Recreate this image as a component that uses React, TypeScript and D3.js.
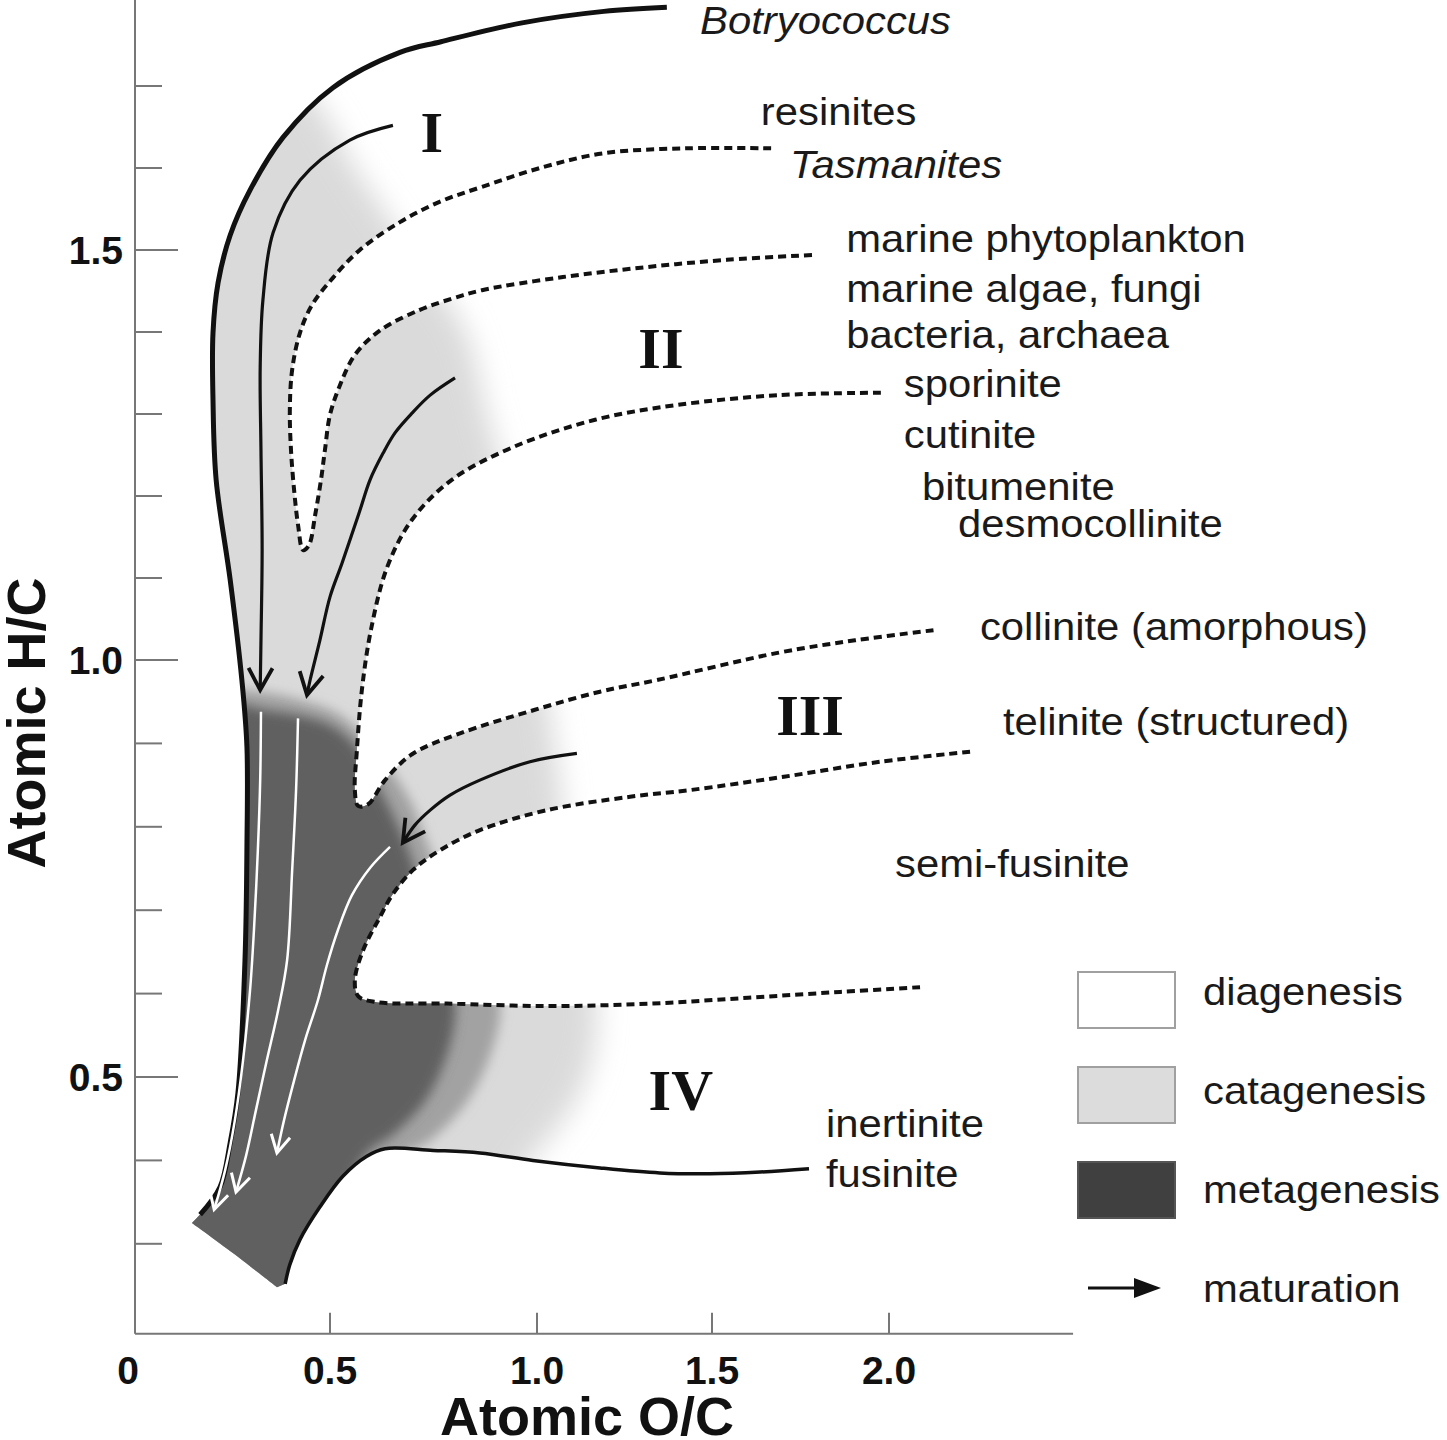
import React, { useEffect } from 'react';
import * as d3 from 'd3';

const width = 1447;
const height = 1440;

// axes
const xTickValues = [0, 0.5, 1.0, 1.5, 2.0];
const xTickLabels = ['0', '0.5', '1.0', '1.5', '2.0'];
const yMajorTicks = [0.5, 1.0, 1.5];
const yMinorTicks = [0.3, 0.4, 0.6, 0.7, 0.8, 0.9, 1.1, 1.2, 1.3, 1.4, 1.6, 1.7];
const xMax = 2.52;
const yMin = 0.192;
const yMax = 1.805;

// evolution paths, [O/C, H/C]
const botryococcus = [
  [1.371, 1.796], [1.191, 1.791], [0.964, 1.777], [0.768, 1.754], [0.669, 1.741],
  [0.507, 1.698], [0.379, 1.637], [0.295, 1.573], [0.244, 1.518], [0.213, 1.46],
  [0.2, 1.399], [0.2, 1.317], [0.208, 1.22], [0.244, 1.098], [0.274, 0.976],
  [0.287, 0.896], [0.287, 0.776], [0.282, 0.64], [0.264, 0.481], [0.244, 0.421],
  [0.218, 0.368], [0.167, 0.335]
];
const bottomEdge = [[0.146, 0.325], [0.251, 0.289], [0.364, 0.248]];
const fusinite = [
  [0.385, 0.252], [0.397, 0.275], [0.423, 0.305], [0.474, 0.344], [0.531, 0.381],
  [0.589, 0.405], [0.633, 0.414], [0.749, 0.412], [0.862, 0.409], [0.99, 0.4],
  [1.18, 0.391], [1.351, 0.385], [1.494, 0.384], [1.636, 0.386], [1.774, 0.39]
];
// telinite branch running into the semi-fusinite line
const telinite = [
  [2.229, 0.89], [1.975, 0.878], [1.703, 0.86], [1.437, 0.844], [1.266, 0.836],
  [1.029, 0.82], [0.862, 0.796], [0.766, 0.772], [0.7, 0.748], [0.65, 0.718],
  [0.621, 0.692], [0.58, 0.652], [0.56, 0.616], [0.568, 0.597], [0.609, 0.59],
  [0.783, 0.588], [1.037, 0.585], [1.323, 0.588], [1.602, 0.595], [1.862, 0.602],
  [2.099, 0.608]
];
// sporinite branch running into collinite
const sporinite = [
  [1.977, 1.326], [1.689, 1.323], [1.4, 1.311], [1.166, 1.293], [0.944, 1.26],
  [0.795, 1.22], [0.698, 1.171], [0.638, 1.113], [0.599, 1.037], [0.577, 0.964],
  [0.565, 0.892], [0.56, 0.844], [0.568, 0.825], [0.592, 0.827], [0.633, 0.856],
  [0.698, 0.887], [0.814, 0.912], [0.993, 0.94], [1.18, 0.962], [1.343, 0.976],
  [1.689, 1.009], [1.904, 1.024], [2.138, 1.037]
];
// Tasmanites branch running into marine phytoplankton
const tasmanites = [
  [1.667, 1.624], [1.426, 1.624], [1.191, 1.618], [1.017, 1.601], [0.867, 1.577],
  [0.766, 1.559], [0.669, 1.534], [0.572, 1.5], [0.507, 1.466], [0.454, 1.433],
  [0.423, 1.399], [0.403, 1.354], [0.397, 1.305], [0.4, 1.256], [0.408, 1.207],
  [0.418, 1.165], [0.431, 1.134], [0.446, 1.14], [0.462, 1.177], [0.477, 1.22],
  [0.487, 1.256], [0.5, 1.299], [0.524, 1.335], [0.56, 1.372], [0.621, 1.402],
  [0.717, 1.427], [0.797, 1.441], [0.867, 1.451], [1.074, 1.467], [1.309, 1.479],
  [1.542, 1.488], [1.788, 1.494]
];

// maturation arrows
const arrowI = [
  [0.652, 1.652], [0.548, 1.634], [0.423, 1.585], [0.354, 1.521], [0.328, 1.439],
  [0.321, 1.357], [0.323, 1.256], [0.326, 1.134], [0.323, 1.024], [0.321, 0.964]
];
const arrowII = [
  [0.802, 1.344], [0.742, 1.323], [0.698, 1.301], [0.657, 1.277], [0.628, 1.252],
  [0.597, 1.22], [0.57, 1.179], [0.529, 1.118], [0.5, 1.077], [0.474, 1.024],
  [0.449, 0.976], [0.441, 0.958]
];
const arrowIII = [
  [1.114, 0.888], [0.983, 0.878], [0.862, 0.856], [0.79, 0.838], [0.742, 0.82],
  [0.705, 0.802], [0.676, 0.781]
];
const whiteA = [
  [0.323, 0.938], [0.321, 0.856], [0.315, 0.772], [0.305, 0.676], [0.295, 0.604],
  [0.277, 0.52], [0.256, 0.448], [0.231, 0.388], [0.203, 0.341]
];
const whiteB = [
  [0.418, 0.93], [0.413, 0.844], [0.403, 0.748], [0.39, 0.64], [0.367, 0.58],
  [0.338, 0.52], [0.31, 0.46], [0.285, 0.406], [0.259, 0.362]
];
const whiteC = [
  [0.645, 0.776], [0.597, 0.751], [0.553, 0.718], [0.519, 0.676], [0.492, 0.634],
  [0.469, 0.592], [0.436, 0.544], [0.408, 0.496], [0.382, 0.448], [0.364, 0.409]
];

// maturity zones
const catagenesisZone = [
  [0.295, 1.78], [0.423, 1.707], [0.512, 1.646], [0.548, 1.61], [0.621, 1.555],
  [0.717, 1.482], [0.826, 1.402], [0.879, 1.301], [0.935, 1.195], [0.983, 1.073],
  [1.031, 0.952], [1.057, 0.88], [1.094, 0.748], [1.151, 0.64], [1.171, 0.589],
  [1.157, 0.52], [1.094, 0.46], [0.983, 0.4], [0.809, 0.292], [0.423, 0.113],
  [-0.218, 0.113], [-0.218, 1.78]
];
const intermediateZone = [
  [-0.09, 0.964], [0.282, 0.964], [0.423, 0.952], [0.524, 0.934], [0.609, 0.892],
  [0.693, 0.832], [0.742, 0.772], [0.814, 0.688], [0.886, 0.622], [0.911, 0.586],
  [0.891, 0.532], [0.833, 0.472], [0.742, 0.424], [0.657, 0.4], [0.5, 0.293],
  [0.423, 0.113], [-0.09, 0.113]
];
const metagenesisZone = [
  [-0.09, 0.952], [0.282, 0.946], [0.326, 0.941], [0.418, 0.934], [0.5, 0.922],
  [0.56, 0.898], [0.621, 0.844], [0.669, 0.796], [0.698, 0.76], [0.742, 0.688],
  [0.786, 0.622], [0.803, 0.586], [0.786, 0.532], [0.731, 0.472], [0.657, 0.433],
  [0.585, 0.406], [0.5, 0.293], [0.423, 0.113], [-0.09, 0.113]
];

// annotations, anchored in data units
const labelTexts = [
  'Botryococcus', 'resinites', 'Tasmanites', 'marine phytoplankton', 'marine algae, fungi',
  'bacteria, archaea', 'sporinite', 'cutinite', 'bitumenite', 'desmocollinite',
  'collinite (amorphous)', 'telinite (structured)', 'semi-fusinite', 'inertinite', 'fusinite'
];
const labelAnchors = [
  [1.466, 1.763], [1.638, 1.652], [1.72, 1.588], [1.879, 1.498], [1.879, 1.437],
  [1.879, 1.38], [2.042, 1.321], [2.042, 1.259], [2.093, 1.195], [2.195, 1.15],
  [2.257, 1.024], [2.322, 0.91], [2.017, 0.74], [1.822, 0.428], [1.822, 0.368]
];
const italicLabels = ['Botryococcus', 'Tasmanites'];
const typeNames = ['I', 'II', 'III', 'IV'];
const typeAnchors = [[0.746, 1.62], [1.354, 1.356], [1.777, 0.91], [1.411, 0.46]];

const legendNames = ['diagenesis', 'catagenesis', 'metagenesis', 'maturation'];
const legendFills = ['#ffffff', '#dcdcdc', '#404040'];

const x = d3.scaleLinear().domain([0, 0.5, 1.0, 1.5, 2.0]).range([135, 330, 537, 712, 889]);
const y = d3.scaleLinear().domain([0.5, 1.0, 1.5]).range([1077, 660, 250]);

const line = d3
  .line<number[]>()
  .x(d => x(d[0]))
  .y(d => y(d[1]))
  .curve(d3.curveCatmullRom.alpha(0.5));

const polygon = d3
  .line<number[]>()
  .x(d => x(d[0]))
  .y(d => y(d[1]))
  .curve(d3.curveCatmullRomClosed.alpha(0.5));

const joinPaths = (parts: number[][][]) =>
  parts.map((p, i) => (i === 0 ? line(p) : line(p).replace(/^M/, 'L'))).join('') + 'Z';

const envelope = joinPaths([
  botryococcus,
  bottomEdge,
  fusinite,
  [...telinite].reverse(),
  [...sporinite].reverse(),
  [...tasmanites].reverse()
]);

const arrowHead = (pts: number[][], len: number, ang: number) => {
  const p = pts[pts.length - 1];
  const q = pts[pts.length - 2];
  const px = x(p[0]), py = y(p[1]);
  const dx = px - x(q[0]), dy = py - y(q[1]);
  const n = Math.hypot(dx, dy);
  const ux = dx / n, uy = dy / n;
  const barb = (s: number) => {
    const c = Math.cos(s * ang), sn = Math.sin(s * ang);
    return [px - len * (ux * c - uy * sn), py - len * (ux * sn + uy * c)];
  };
  const a = barb(1), b = barb(-1);
  return `M${a[0]},${a[1]}L${px},${py}L${b[0]},${b[1]}`;
};

const App = () => {
  useEffect(() => {
    document.body.style.margin = '0';
  }, []);

  const labelFont = '"Liberation Sans", Arial, sans-serif';
  const axisY = y(yMin);

  return (
    <svg width={width} height={height} style={{ display: 'block', background: '#fff' }}>
      <defs>
        <clipPath id="envelope">
          <path d={envelope} />
        </clipPath>
        <filter id="blurWide" filterUnits="userSpaceOnUse" x="0" y="0" width={width} height={height}>
          <feGaussianBlur stdDeviation="14" />
        </filter>
        <filter id="blurNarrow" filterUnits="userSpaceOnUse" x="0" y="0" width={width} height={height}>
          <feGaussianBlur stdDeviation="6" />
        </filter>
      </defs>
      <rect width={width} height={height} fill="#fff" />

      <g clipPath="url(#envelope)">
        <path d={polygon(catagenesisZone)} fill="#dadada" filter="url(#blurWide)" />
        <path d={polygon(intermediateZone)} fill="#a2a2a2" filter="url(#blurNarrow)" />
        <path d={polygon(metagenesisZone)} fill="#616161" filter="url(#blurNarrow)" />
      </g>

      {/* axes */}
      <g stroke="#777" strokeWidth={2}>
        <line x1={x(0)} x2={x(0)} y1={y(yMax)} y2={axisY} />
        <line x1={x(0)} x2={x(xMax)} y1={axisY} y2={axisY} />
        {yMajorTicks.map(v => (
          <line key={'M' + v} x1={x(0)} x2={x(0) + 43} y1={y(v)} y2={y(v)} />
        ))}
        {yMinorTicks.map(v => (
          <line key={'m' + v} x1={x(0)} x2={x(0) + 27} y1={y(v)} y2={y(v)} />
        ))}
        {xTickValues.slice(1).map(v => (
          <line key={'x' + v} x1={x(v)} x2={x(v)} y1={axisY} y2={axisY - 21} />
        ))}
      </g>
      <g fontFamily={labelFont} fontWeight="bold" fontSize={39} fill="#111">
        {yMajorTicks.map(v => (
          <text key={v} x={x(0) - 12} y={y(v) + 14} textAnchor="end">
            {v.toFixed(1)}
          </text>
        ))}
        {xTickValues.map((v, i) => (
          <text key={v} x={i === 0 ? x(v) - 7 : x(v)} y={1384} textAnchor="middle">
            {xTickLabels[i]}
          </text>
        ))}
        <text x={587} y={1435} textAnchor="middle" fontSize={54}>
          Atomic O/C
        </text>
        <text transform={`translate(45,${723}) rotate(-90)`} textAnchor="middle" fontSize={54}>
          Atomic H/C
        </text>
      </g>

      {/* evolution paths */}
      <g fill="none" stroke="#111" strokeLinecap="butt">
        <path d={line(botryococcus)} strokeWidth={5} />
        <path d={line(fusinite)} strokeWidth={3.5} />
        <path d={line(telinite)} strokeWidth={4} strokeDasharray="8 5" />
        <path d={line(sporinite)} strokeWidth={4} strokeDasharray="8 5" />
        <path d={line(tasmanites)} strokeWidth={4} strokeDasharray="8 5" />
        {[arrowI, arrowII, arrowIII].map((a, i) => (
          <g key={i}>
            <path d={line(a)} strokeWidth={3.2} />
            <path d={arrowHead(a, 25, 0.5)} strokeWidth={3.8} strokeLinejoin="miter" />
          </g>
        ))}
      </g>
      <g fill="none" stroke="#fff">
        {[whiteA, whiteB, whiteC].map((a, i) => (
          <g key={i}>
            <path d={line(a)} strokeWidth={2.5} />
            <path d={arrowHead(a, 20, 0.5)} strokeWidth={3} />
          </g>
        ))}
      </g>

      {/* annotations */}
      <g fontFamily={labelFont} fontSize={38} fill="#1a1a1a">
        {labelTexts.map((t, i) => (
          <text
            key={t}
            transform={`translate(${x(labelAnchors[i][0])},${y(labelAnchors[i][1])}) scale(1.1,1)`}
            fontStyle={italicLabels.includes(t) ? 'italic' : 'normal'}
          >
            {t}
          </text>
        ))}
      </g>
      <g fontFamily='"Liberation Serif", "Times New Roman", serif' fontWeight="bold" fontSize={58} fill="#111">
        {typeNames.map((t, i) => (
          <text key={t} x={x(typeAnchors[i][0])} y={y(typeAnchors[i][1])} textAnchor="middle">
            {t}
          </text>
        ))}
      </g>

      {/* legend */}
      <g>
        {legendFills.map((f, i) => (
          <rect
            key={i}
            x={1078}
            y={972 + i * 95}
            width={97}
            height={56}
            fill={f}
            stroke={i === 2 ? '#555' : '#a0a0a0'}
            strokeWidth={2}
          />
        ))}
        <line x1={1088} x2={1140} y1={1288} y2={1288} stroke="#111" strokeWidth={3} />
        <path d="M1134,1278L1161,1288L1134,1298Z" fill="#111" />
        <g fontFamily={labelFont} fontSize={38} fill="#1a1a1a">
          {legendNames.map((t, i) => (
            <text key={t} transform={`translate(1203,${1005 + i * 99}) scale(1.1,1)`}>
              {t}
            </text>
          ))}
        </g>
      </g>
    </svg>
  );
};

export default App;
